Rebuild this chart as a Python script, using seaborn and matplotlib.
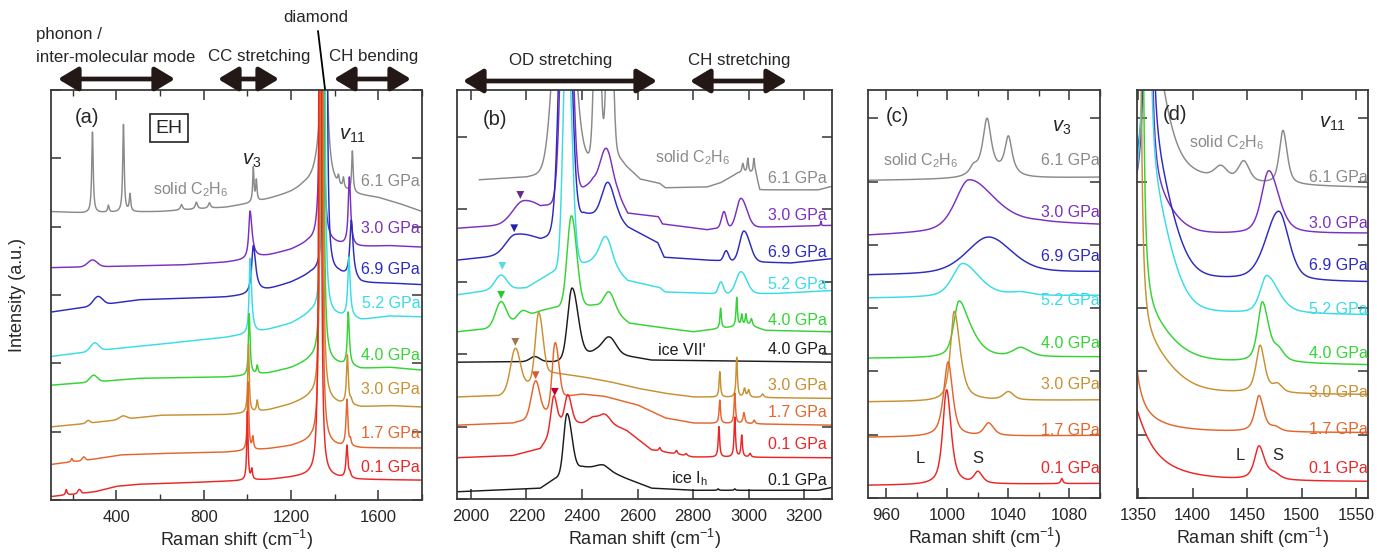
import numpy as np
import pandas as pd
import matplotlib
matplotlib.use("Agg")
import matplotlib.pyplot as plt
import seaborn as sns
from matplotlib.patches import FancyArrowPatch, ArrowStyle
from matplotlib.lines import Line2D
from matplotlib.ticker import MultipleLocator

sns.set_theme(style="ticks")
plt.rcParams["font.family"] = ["Liberation Sans", "DejaVu Sans"]
plt.rcParams["mathtext.fontset"] = "custom"
plt.rcParams["mathtext.rm"] = "Liberation Sans"
plt.rcParams["mathtext.it"] = "Liberation Sans:italic"
plt.rcParams["mathtext.bf"] = "Liberation Sans:bold"

# ---------------------------------------------------------------- colours
GRAY, PURPLE, BLUE, CYAN = "#8a8a8a", "#7b2fc2", "#2b2bc0", "#38dce6"
GREEN, TAN, ORANGE, RED, BLACK = "#33d433", "#c89030", "#e4662c", "#ec2626", "#1c1c1c"

# Peak entries: (centre, hwhm_left, hwhm_right, height, lorentzian_fraction)
# Baselines: (Raman shift, intensity) anchor points

# ---------------------------------------------------------------- panel (a)
A_LABELS = ["6.1 GPa", "3.0 GPa", "6.9 GPa", "5.2 GPa", "4.0 GPa", "3.0 GPa", "1.7 GPa", "0.1 GPa"]
A_COLORS = [GRAY, PURPLE, BLUE, CYAN, GREEN, TAN, ORANGE, RED]
A_LABEL_Y = [4.66, 3.97, 3.37, 2.88, 2.12, 1.61, 0.98, 0.48]
A_BASELINE = [
    [(100, 4.22), (250, 4.2), (600, 4.22), (900, 4.28), (1000, 4.33), (1100, 4.4), (1200, 4.48),
     (1260, 4.55), (1400, 4.52), (1500, 4.46), (1600, 4.42), (1700, 4.33), (1800, 4.22)],
    [(100, 3.40), (400, 3.42), (700, 3.44), (900, 3.48), (1000, 3.52), (1100, 3.58), (1200, 3.66),
     (1280, 3.76), (1400, 3.74), (1500, 3.7), (1650, 3.72), (1800, 3.7)],
    [(100, 2.75), (340, 2.86), (500, 2.93), (900, 2.97), (1000, 3.0), (1100, 3.08), (1200, 3.18),
     (1290, 3.3), (1420, 3.3), (1520, 3.17), (1650, 3.17), (1800, 3.15)],
    [(100, 2.1), (350, 2.2), (600, 2.28), (900, 2.38), (1050, 2.45), (1200, 2.58), (1290, 2.72),
     (1420, 2.68), (1520, 2.63), (1650, 2.69), (1800, 2.68)],
    [(100, 1.68), (350, 1.74), (500, 1.78), (900, 1.8), (1000, 1.82), (1100, 1.86), (1200, 1.93),
     (1290, 2.04), (1420, 1.98), (1520, 1.92), (1650, 1.94), (1800, 1.9)],
    [(100, 1.07), (200, 1.1), (600, 1.24), (900, 1.25), (1000, 1.27), (1100, 1.32), (1200, 1.4),
     (1290, 1.5), (1420, 1.4), (1520, 1.36), (1650, 1.38), (1800, 1.36)],
    [(100, 0.52), (300, 0.6), (420, 0.66), (600, 0.68), (900, 0.7), (1000, 0.72), (1100, 0.75),
     (1200, 0.79), (1290, 0.86), (1420, 0.78), (1520, 0.76), (1800, 0.76)],
    [(100, 0.05), (160, 0.07), (300, 0.12), (400, 0.2), (500, 0.23), (700, 0.25), (950, 0.28),
     (1100, 0.3), (1200, 0.33), (1290, 0.36), (1420, 0.32), (1500, 0.3), (1800, 0.29)],
]
A_PEAKS = [
    [(290, 4, 4, 1.18, 1), (363, 4, 4, 0.1, 1), (432, 4, 4, 1.28, 1), (462, 4, 4, 0.25, 1),
     (698, 6, 6, 0.08, 1), (766, 6, 6, 0.1, 1), (826, 6, 6, 0.08, 1), (1027, 3.5, 3.5, 0.5, 1),
     (1041, 3.5, 3.5, 0.3, 1), (1352, 2.5, 2.5, 40, 1), (1350, 30, 20, 0.9, 1),
     (1417, 4, 4, 0.12, 1), (1440, 4, 4, 0.15, 1), (1481, 4, 4, 0.6, 1)],
    [(290, 25, 25, 0.1, 0), (1012, 7, 11, 0.7, 1), (1340, 2.5, 2.5, 40, 1), (1467, 6, 7, 1.0, 1)],
    [(315, 25, 25, 0.13, 0), (1027, 9, 13, 0.7, 1), (1358, 2.5, 2.5, 40, 1), (1476, 8, 10, 0.85, 1)],
    [(300, 22, 22, 0.12, 0), (1012, 5, 8, 1.1, 1), (1348, 2.5, 2.5, 40, 1), (1465, 6, 7, 0.88, 1)],
    [(295, 20, 20, 0.1, 0), (1008, 4, 5, 0.9, 1), (1045, 4, 4, 0.12, 1), (1343, 2.5, 2.5, 40, 1),
     (1462, 5, 6, 0.78, 1)],
    [(270, 10, 10, 0.04, 0), (430, 20, 20, 0.05, 0), (1005, 4, 4, 1.0, 1), (1045, 4, 4, 0.16, 1),
     (1340, 2.5, 2.5, 40, 1), (1458, 5, 5, 0.72, 1), (1475, 5, 5, 0.06, 1)],
    [(195, 4, 4, 0.05, 1), (250, 8, 8, 0.05, 0), (1003, 4, 4, 1.0, 1), (1025, 4, 4, 0.18, 1),
     (1337, 2.5, 2.5, 40, 1), (1456, 5, 5, 0.68, 1), (1472, 4, 4, 0.08, 1)],
    [(170, 4, 4, 0.08, 1), (230, 8, 8, 0.06, 0), (1000, 3.5, 3.5, 1.0, 1), (1020, 4, 4, 0.15, 1),
     (1333, 2.5, 2.5, 40, 1), (1456, 5, 5, 0.47, 1), (1470, 5, 5, 0.06, 1)],
]

# ---------------------------------------------------------------- panel (b)
B_LABELS = ["6.1 GPa", "3.0 GPa", "6.9 GPa", "5.2 GPa", "4.0 GPa", "4.0 GPa", "3.0 GPa",
            "1.7 GPa", "0.1 GPa", "0.1 GPa"]
B_COLORS = [GRAY, PURPLE, BLUE, CYAN, GREEN, BLACK, TAN, ORANGE, RED, BLACK]
B_LABEL_Y = [4.43, 3.92, 3.41, 2.96, 2.47, 2.06, 1.57, 1.19, 0.75, 0.25]
B_BASELINE = [
    [(2030, 4.41), (2200, 4.45), (2260, 4.5), (2400, 4.7), (2530, 4.75), (2560, 4.6), (2610, 4.42),
     (2680, 4.36), (2700, 4.3), (2850, 4.31), (2900, 4.37), (2960, 4.5), (3025, 4.5), (3040, 4.27),
     (3250, 4.27), (3300, 4.32)],
    [(1950, 3.74), (2100, 3.78), (2250, 3.85), (2300, 4.0), (2440, 4.4), (2530, 4.2),
     (2565, 3.95), (2675, 3.9), (2690, 3.8), (2850, 3.72), (2900, 3.75), (3100, 3.76), (3300, 3.78)],
    [(1950, 3.3), (2100, 3.36), (2250, 3.45), (2300, 3.6), (2407, 3.95), (2530, 3.9),
     (2565, 3.76), (2673, 3.54), (2696, 3.34), (2850, 3.3), (3150, 3.26), (3300, 3.32)],
    [(1950, 2.82), (2060, 2.88), (2200, 2.92), (2300, 3.15), (2443, 3.3), (2530, 3.15), (2565, 3.02),
     (2680, 2.92), (2700, 2.86), (2850, 2.84), (3100, 2.84), (3300, 2.88)],
    [(1950, 2.31), (2050, 2.35), (2150, 2.45), (2250, 2.6), (2300, 2.65), (2448, 2.68), (2530, 2.55),
     (2571, 2.43), (2700, 2.36), (2800, 2.31), (3000, 2.4), (3060, 2.33), (3300, 2.31)],
    [(1950, 1.89), (2300, 1.9), (2400, 2.0), (2450, 2.05), (2560, 1.98), (2650, 1.92), (3300, 1.89)],
    [(1950, 1.41), (2100, 1.43), (2200, 1.6), (2290, 1.75), (2400, 1.69), (2500, 1.62), (2600, 1.53),
     (2700, 1.46), (2800, 1.41), (3300, 1.39)],
    [(1950, 1.02), (2150, 1.05), (2250, 1.15), (2340, 1.42), (2400, 1.45), (2480, 1.42), (2600, 1.3),
     (2700, 1.12), (2800, 1.05), (3300, 1.02)],
    [(1950, 0.57), (2150, 0.6), (2250, 0.7), (2320, 1.1), (2400, 1.05), (2500, 1.05), (2560, 0.95),
     (2650, 0.68), (2800, 0.58), (3300, 0.57)],
    [(1950, 0.1), (2250, 0.15), (2300, 0.28), (2400, 0.45), (2480, 0.42), (2556, 0.29), (2650, 0.15),
     (2800, 0.12), (3250, 0.12), (3300, 0.16)],
]
B_PEAKS = [
    [(2335, 35, 35, 4, 0), (2455, 12, 12, 3, 0), (2500, 12, 12, 3, 0), (2979, 4, 4, 0.13, 1),
     (2997, 3, 3, 0.2, 1), (3019, 3, 3, 0.2, 1)],
    [(2190, 45, 80, 0.3, 0), (2345, 20, 20, 5, 0), (2488, 25, 25, 0.55, 0), (2911, 10, 10, 0.22, 0),
     (2972, 18, 25, 0.4, 0), (3260, 1.5, 1.5, 0.06, 1)],
    [(2160, 40, 100, 0.26, 0), (2340, 22, 22, 5, 0), (2493, 25, 25, 0.46, 0), (2919, 10, 10, 0.14, 0),
     (2983, 18, 25, 0.42, 0)],
    [(2108, 25, 25, 0.2, 0), (2345, 15, 20, 3.5, 0), (2486, 25, 25, 0.4, 0), (2900, 10, 10, 0.16, 0),
     (2972, 20, 25, 0.3, 0)],
    [(2108, 22, 22, 0.32, 0), (2185, 20, 20, 0.1, 0), (2362, 18, 22, 1.25, 0), (2498, 22, 22, 0.26, 0),
     (2899, 3, 3, 0.28, 1), (2957, 3, 3, 0.4, 1), (2975, 3, 3, 0.15, 1), (2990, 3, 3, 0.15, 1),
     (3010, 4, 4, 0.1, 1)],
    [(2230, 20, 20, 0.07, 0), (2364, 18, 25, 0.95, 0), (2498, 28, 28, 0.22, 0)],
    [(2160, 20, 20, 0.55, 0), (2244, 14, 18, 0.9, 0), (2896, 3, 3, 0.35, 1), (2957, 3, 3, 0.55, 1),
     (2985, 4, 4, 0.12, 1), (3000, 4, 4, 0.1, 1), (3050, 5, 5, 0.05, 1)],
    [(2233, 18, 18, 0.5, 0), (2303, 12, 16, 0.85, 0), (2896, 3, 3, 0.32, 1), (2950, 3, 3, 0.42, 1),
     (2983, 4, 4, 0.15, 1), (3020, 4, 4, 0.05, 1)],
    [(2298, 12, 12, 0.45, 0), (2349, 12, 15, 0.36, 0), (2440, 20, 20, 0.08, 0), (2480, 20, 20, 0.12, 0),
     (2680, 4, 4, 0.05, 1), (2740, 4, 4, 0.05, 1), (2775, 4, 4, 0.03, 1), (2893, 3, 3, 0.42, 1),
     (2950, 3, 3, 0.55, 1), (2975, 3, 3, 0.3, 1), (3005, 4, 4, 0.05, 1)],
    [(2346, 14, 20, 0.82, 0), (2473, 25, 25, 0.05, 0), (2890, 3, 3, 0.02, 1), (2950, 3, 3, 0.02, 1)],
]
# low-frequency OD band markers
TRI_X = [2178, 2156, 2113, 2109, 2160, 2233, 2302]
TRI_Y = [4.2, 3.74, 3.22, 2.82, 2.17, 1.71, 1.48]
TRI_COLORS = ["#6a2a80", "#2222aa", "#55dde0", "#22cc22", "#a07850", "#d85a30", "#c00030"]

# ---------------------------------------------------------------- panel (c)  v3 region
C_LABEL_Y = [5.34, 4.52, 3.81, 3.13, 2.45, 1.79, 1.07, 0.47]
C_BASELINE = [
    [(948, 5.02), (1100, 5.07)],
    [(948, 4.15), (1000, 4.2), (1060, 4.33), (1100, 4.31)],
    [(948, 3.52), (1100, 3.57)],
    [(948, 3.16), (1100, 3.2)],
    [(948, 2.21), (1100, 2.23)],
    [(948, 1.52), (1100, 1.55)],
    [(948, 0.96), (1100, 0.99)],
    [(948, 0.2), (1100, 0.23)],
]
C_PEAKS = [
    [(1017, 3, 3, 0.12, 1), (1026, 3.5, 3.5, 0.92, 1), (1040, 3, 3, 0.62, 1)],
    [(1014, 10.5, 20, 0.8, 0.5)],
    [(1027, 17, 18, 0.58, 0.4)],
    [(1010, 8, 13, 0.53, 0.5), (1048, 8, 8, 0.05, 0.5)],
    [(1007.5, 4, 7, 0.86, 0.6), (1017, 6, 8, 0.15, 0.5), (1048, 6, 7, 0.14, 0.5)],
    [(1004.5, 3, 4.5, 1.42, 0.7), (1040, 4, 4, 0.13, 0.6)],
    [(1000.5, 3.5, 3.5, 1.18, 0.7), (1027, 3.5, 4, 0.2, 0.6)],
    [(999.5, 3, 3.5, 1.5, 0.7), (1020, 3, 3.5, 0.18, 0.6), (1075, 0.8, 0.8, 0.08, 1)],
]

# ---------------------------------------------------------------- panel (d)  v11 region
D_LABEL_Y = [5.06, 4.34, 3.68, 2.98, 2.29, 1.66, 1.09, 0.47]
D_BASELINE = [
    [(1349, 4.95), (1560, 4.9)],
    [(1349, 4.14), (1560, 4.18)],
    [(1349, 3.43), (1560, 3.41)],
    [(1349, 2.91), (1560, 2.89)],
    [(1349, 2.15), (1560, 2.1)],
    [(1349, 1.64), (1560, 1.63)],
    [(1349, 1.03), (1560, 1.03)],
    [(1349, 0.24), (1560, 0.25)],
]
D_PEAKS = [
    [(1355, 18, 18, 3.2, 0.6), (1426, 7, 7, 0.2, 0.5), (1447, 6, 6, 0.32, 0.5), (1483, 4, 4.5, 0.85, 0.6)],
    [(1359, 1, 1, 40, 1), (1359, 22, 22, 0.7, 0.3), (1470, 8, 11, 1.0, 0.5)],
    [(1360, 1, 1, 40, 1), (1360, 22, 22, 2.0, 0.2), (1479, 14, 11, 1.1, 0.4)],
    [(1358, 1, 1, 40, 1), (1358, 22, 22, 2.0, 0.2), (1468, 7, 13, 0.6, 0.5)],
    [(1352, 1, 1, 40, 1), (1352, 28, 28, 0.75, 0.4), (1464, 5, 7, 0.95, 0.6), (1479, 5, 6, 0.15, 0.5)],
    [(1350, 1, 1, 40, 1), (1350, 30, 30, 0.85, 0.4), (1462, 4.5, 5, 0.75, 0.7), (1478, 5, 5, 0.12, 0.5)],
    [(1340, 5, 5, 3.5, 1), (1340, 30, 30, 0.2, 1), (1461, 4.5, 5, 0.57, 0.7), (1476, 5, 5, 0.06, 0.5)],
    [(1335, 20, 20, 1.72, 1), (1461, 5, 6, 0.53, 0.7), (1475, 6, 6, 0.08, 0.5)],
]


def spectrum(knots, peaks, step):
    kx, ky = zip(*knots)
    x = np.arange(kx[0], kx[-1] + step / 2, step)
    y = np.interp(x, kx, ky)
    for c, wl, wr, h, eta in peaks:
        u = (x - c) / np.where(x < c, wl, wr)
        y = y + h * (eta / (1 + u ** 2) + (1 - eta) * np.exp(-np.log(2) * u ** 2))
    return x, y


def panel_frame(baselines, peaks, step):
    rows = []
    for i, (kn, pk) in enumerate(zip(baselines, peaks)):
        x, y = spectrum(kn, pk, step)
        rows.append(pd.DataFrame({"shift": x, "intensity": y, "series": f"s{i}"}))
    return pd.concat(rows, ignore_index=True)


def draw_panel(ax, baselines, peaks, colors, step):
    df = panel_frame(baselines, peaks, step)
    order = [f"s{i}" for i in range(len(colors))]
    sns.lineplot(data=df, x="shift", y="intensity", hue="series", hue_order=order,
                 palette=colors, estimator=None, sort=False, legend=False,
                 linewidth=1.05, ax=ax)


def style_axes(ax, xlim, ylim, xmajor, xminor=None):
    ax.set_xlim(*xlim)
    ax.set_ylim(*ylim)
    ax.xaxis.set_major_locator(MultipleLocator(xmajor))
    if xminor:
        ax.xaxis.set_minor_locator(MultipleLocator(xminor))
    ax.yaxis.set_major_locator(MultipleLocator(1))
    ax.tick_params(axis="both", which="major", direction="in", top=True, right=True,
                   length=7, width=1.1, color="#333333", labelsize=12, pad=7,
                   labelleft=False)
    ax.tick_params(axis="both", which="minor", direction="in", top=True, right=True,
                   length=4, width=1.0, color="#333333")
    for s in ax.spines.values():
        s.set_color("#3a3a3a")
        s.set_linewidth(1.3)
    ax.set_xlabel("Raman shift (cm$^{-1}$)", fontsize=13, labelpad=2)
    ax.set_ylabel("")


def series_labels(ax, labels, ys, colors, xfrac=0.995):
    for lab, yv, col in zip(labels, ys, colors):
        ax.text(xfrac, yv, lab, color=col, fontsize=11.5, ha="right", va="center",
                transform=ax.get_yaxis_transform())


W, H = 1377, 557
fig = plt.figure(figsize=(W / 100, H / 100), dpi=100)


def rect(left, top, right, bottom):
    return [left / W, 1 - bottom / H, (right - left) / W, (bottom - top) / H]


def fpx(x, y):
    return (x / W, 1 - y / H)


ax_a = fig.add_axes(rect(51, 90, 422, 500))
ax_b = fig.add_axes(rect(457, 90, 832, 499))
ax_c = fig.add_axes(rect(868, 90, 1100, 498))
ax_d = fig.add_axes(rect(1137, 90, 1368, 498))

# (a) full range
draw_panel(ax_a, A_BASELINE, A_PEAKS, A_COLORS, 0.5)
style_axes(ax_a, (100, 1800), (0, 6), 400, 200)
series_labels(ax_a, A_LABELS, A_LABEL_Y, A_COLORS)
ax_a.set_ylabel("Intensity (a.u.)", fontsize=13)
ax_a.yaxis.set_label_coords(-0.068, 0.5)
ax_a.text(0.097, 0.934, "(a)", transform=ax_a.transAxes, fontsize=14.5, ha="center", va="center")
ax_a.text(0.318, 0.907, "EH", transform=ax_a.transAxes, fontsize=14, ha="center", va="center",
          bbox=dict(boxstyle="square,pad=0.3", fc="white", ec="#222222", lw=1.2))
ax_a.text(0.542, 0.829, r"$\mathit{v}_{3}$", transform=ax_a.transAxes, fontsize=14.5,
          ha="center", va="center")
ax_a.text(0.814, 0.888, r"$\mathit{v}_{11}$", transform=ax_a.transAxes, fontsize=14.5,
          ha="center", va="center")
ax_a.text(0.377, 0.756, "solid C$_2$H$_6$", transform=ax_a.transAxes, fontsize=11.5,
          color=GRAY, ha="center", va="center")

# (b) OD / CH stretching
draw_panel(ax_b, B_BASELINE, B_PEAKS, B_COLORS, 1.0)
tri = pd.DataFrame({"shift": TRI_X, "intensity": TRI_Y, "series": [f"t{i}" for i in range(len(TRI_X))]})
sns.scatterplot(data=tri, x="shift", y="intensity", hue="series", palette=TRI_COLORS,
                marker="v", s=32, linewidth=0, legend=False, ax=ax_b)
style_axes(ax_b, (1950, 3300), (0, 5.65), 200)
series_labels(ax_b, B_LABELS, B_LABEL_Y, B_COLORS, 0.986)
ax_b.text(0.101, 0.929, "(b)", transform=ax_b.transAxes, fontsize=14.5, ha="center", va="center")
ax_b.text(0.629, 0.834, "solid C$_2$H$_6$", transform=ax_b.transAxes, fontsize=11.5,
          color=GRAY, ha="center", va="center")
ax_b.text(0.6, 0.364, "ice VII'", transform=ax_b.transAxes, fontsize=11.5, color=BLACK,
          ha="center", va="center")
ax_b.text(0.621, 0.049, "ice I$_\\mathrm{h}$", transform=ax_b.transAxes, fontsize=11.5,
          color=BLACK, ha="center", va="center")

# (c) v3 close-up
draw_panel(ax_c, C_BASELINE, C_PEAKS, A_COLORS, 0.2)
style_axes(ax_c, (948, 1100), (0, 6.45), 40, 20)
series_labels(ax_c, A_LABELS, C_LABEL_Y, A_COLORS, 0.998)
ax_c.text(0.129, 0.934, "(c)", transform=ax_c.transAxes, fontsize=14.5, ha="center", va="center")
ax_c.text(0.228, 0.828, "solid C$_2$H$_6$", transform=ax_c.transAxes, fontsize=11.5,
          color=GRAY, ha="center", va="center")
ax_c.text(0.836, 0.909, r"$\mathit{v}_{3}$", transform=ax_c.transAxes, fontsize=14.5,
          ha="center", va="center")
ax_c.text(0.224, 0.098, "L", transform=ax_c.transAxes, fontsize=12, ha="center", va="center")
ax_c.text(0.474, 0.098, "S", transform=ax_c.transAxes, fontsize=12, ha="center", va="center")

# (d) v11 close-up
draw_panel(ax_d, D_BASELINE, D_PEAKS, A_COLORS, 0.2)
style_axes(ax_d, (1349, 1561), (0, 6.45), 50)
series_labels(ax_d, A_LABELS, D_LABEL_Y, A_COLORS, 0.998)
ax_d.text(0.165, 0.939, "(d)", transform=ax_d.transAxes, fontsize=14.5, ha="center", va="center")
ax_d.text(0.39, 0.87, "solid C$_2$H$_6$", transform=ax_d.transAxes, fontsize=11.5,
          color=GRAY, ha="center", va="center")
ax_d.text(0.848, 0.919, r"$\mathit{v}_{11}$", transform=ax_d.transAxes, fontsize=14.5,
          ha="center", va="center")
ax_d.text(0.446, 0.105, "L", transform=ax_d.transAxes, fontsize=12, ha="center", va="center")
ax_d.text(0.61, 0.105, "S", transform=ax_d.transAxes, fontsize=12, ha="center", va="center")

# ---------------------------------------------------------------- band assignments on top
ARROW_COLOR = "#231815"
arrow_style = ArrowStyle("<|-|>", head_length=0.75, head_width=0.45)


def band_arrow(x0, x1, y):
    fig.add_artist(FancyArrowPatch(fpx(x0, y), fpx(x1, y), transform=fig.transFigure,
                                   arrowstyle=arrow_style, mutation_scale=16, lw=3.4,
                                   color=ARROW_COLOR, shrinkA=0, shrinkB=0))


def top_text(x, y, s, ha="center"):
    fig.text(*fpx(x, y), s, fontsize=12.2, ha=ha, va="center")


top_text(36, 35, "phonon /", ha="left")
top_text(36, 57, "inter-molecular mode", ha="left")
band_arrow(58, 175, 79)
top_text(259, 57, "CC stretching")
band_arrow(218, 279, 79)
top_text(374, 57, "CH bending")
band_arrow(334, 411, 79)
top_text(316, 18, "diamond")
fig.add_artist(Line2D([318 / W, 325 / W], [1 - 31 / H, 1 - 89 / H], transform=fig.transFigure,
                      color="black", lw=1.3))
top_text(561, 60, "OD stretching")
band_arrow(463, 657, 81)
top_text(739, 60, "CH stretching")
band_arrow(690, 787, 81)

fig.savefig("out.png", dpi=100)
